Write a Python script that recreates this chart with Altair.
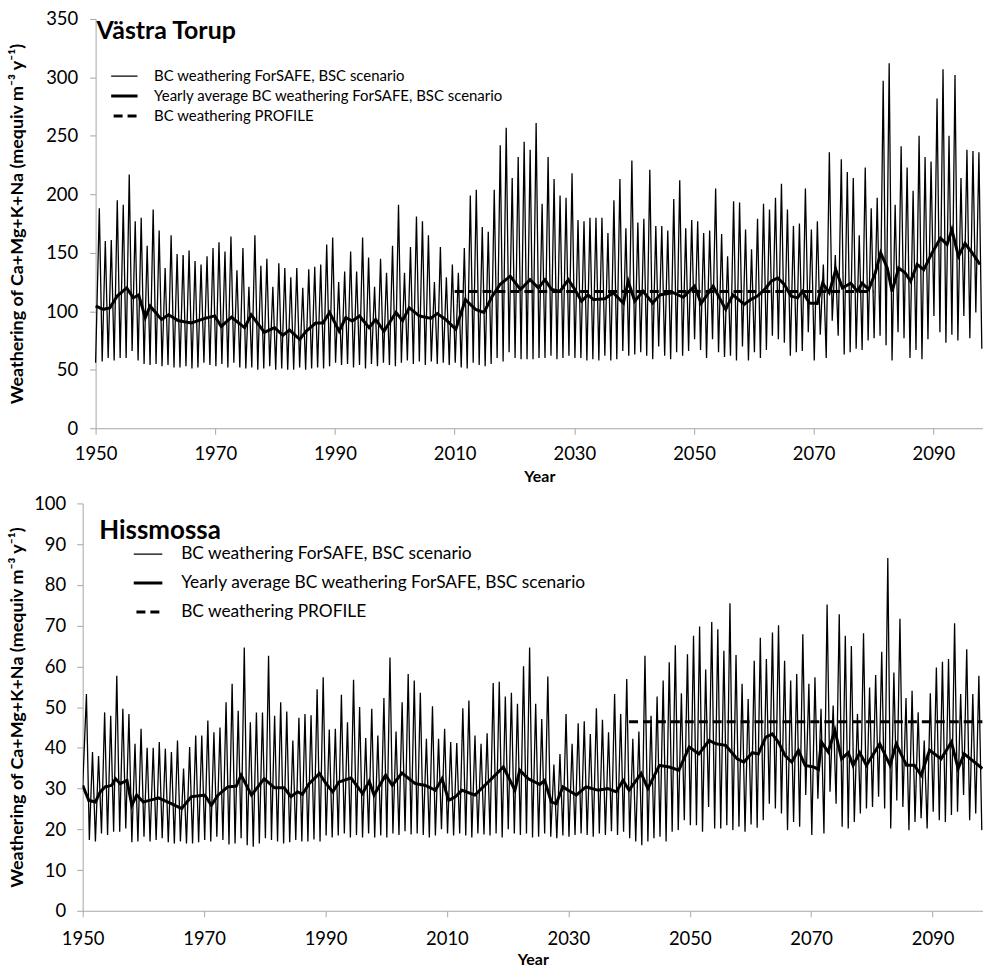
import altair as alt
import pandas as pd

# ---------------- data ----------------
peak_years = list(range(1950, 2098))      # one seasonal maximum per year
trough_years = list(range(1950, 2099))    # one seasonal minimum per year

S1 = "BC weathering ForSAFE, BSC scenario"
S2 = "Yearly average BC weathering ForSAFE, BSC scenario"
S3 = "BC weathering PROFILE"

# Västra Torup
top_peaks = [
    188, 160, 161, 195, 191, 217, 177, 180, 156, 187,
    169, 137, 165, 149, 148, 152, 143, 140, 147, 154,
    159, 151, 164, 135, 154, 121, 165, 139, 145, 121,
    141, 137, 129, 137, 120, 136, 138, 140, 157, 163,
    125, 134, 151, 134, 163, 146, 121, 145, 133, 156,
    191, 133, 155, 181, 177, 165, 125, 155, 129, 140,
    133, 154, 199, 204, 172, 168, 204, 242, 257, 214,
    232, 245, 238, 261, 192, 232, 213, 199, 197, 218,
    178, 177, 180, 180, 180, 167, 195, 213, 171, 229,
    176, 179, 221, 173, 173, 169, 196, 212, 171, 178,
    177, 167, 169, 205, 166, 147, 194, 193, 170, 153,
    179, 192, 187, 197, 209, 187, 173, 175, 205, 170,
    177, 140, 236, 148, 230, 219, 214, 165, 223, 188,
    197, 297, 312, 191, 241, 223, 203, 250, 232, 228,
    282, 307, 250, 302, 214, 238, 237, 236,
]
top_troughs = [
    56, 57, 60, 58, 60, 60, 66, 58, 55, 54,
    55, 53, 54, 52, 52, 53, 51, 52, 56, 54,
    53, 55, 52, 56, 52, 51, 52, 50, 51, 53,
    50, 51, 50, 50, 52, 50, 51, 52, 51, 53,
    56, 54, 55, 52, 54, 51, 55, 53, 56, 54,
    53, 56, 58, 55, 57, 54, 57, 55, 56, 54,
    56, 52, 51, 56, 54, 53, 55, 60, 57, 65,
    60, 59, 59, 59, 60, 60, 62, 59, 60, 62,
    60, 60, 58, 59, 58, 62, 58, 59, 66, 62,
    63, 65, 62, 59, 70, 62, 59, 65, 62, 66,
    76, 67, 60, 76, 65, 61, 62, 58, 70, 58,
    65, 60, 67, 79, 76, 73, 62, 65, 66, 82,
    58, 80, 60, 92, 79, 63, 65, 68, 67, 75,
    77, 79, 71, 58, 82, 77, 60, 67, 59, 76,
    96, 82, 73, 80, 75, 96, 77, 99, 68,
]
top_avg_x = [
    1950.0, 1951.3, 1952.4, 1953.6, 1955.2, 1956.3, 1957.2, 1958.3, 1959.1, 1961.0,
    1962.2, 1963.8, 1966.0, 1968.3, 1969.9, 1971.0, 1972.7, 1974.9, 1976.0, 1978.2,
    1979.9, 1981.3, 1982.4, 1984.1, 1985.2, 1986.8, 1988.0, 1989.1, 1990.7, 1991.8,
    1992.9, 1994.1, 1995.7, 1996.8, 1998.2, 2000.2, 2001.3, 2002.4, 2004.1, 2006.0,
    2007.1, 2008.5, 2010.2, 2011.8, 2013.5, 2014.9, 2016.3, 2017.6, 2019.3, 2021.0,
    2022.6, 2024.0, 2025.1, 2026.2, 2027.6, 2029.0, 2030.1, 2031.2, 2032.3, 2033.2,
    2035.1, 2036.5, 2038.2, 2039.0, 2040.1, 2041.5, 2043.1, 2044.3, 2046.5, 2048.2,
    2050.1, 2051.2, 2053.2, 2055.3, 2056.5, 2058.4, 2059.5, 2060.6, 2061.8, 2062.9,
    2064.0, 2065.1, 2066.2, 2067.3, 2068.1, 2069.3, 2070.6, 2071.5, 2072.6, 2073.7,
    2074.8, 2076.2, 2077.3, 2078.1, 2079.2, 2080.3, 2081.2, 2082.3, 2083.1, 2084.2,
    2085.3, 2086.2, 2087.3, 2088.4, 2089.8, 2091.2, 2092.3, 2093.1, 2094.2, 2095.3,
    2096.7, 2097.8,
]
top_avg_y = [
    104.5, 101.6, 103, 113, 120, 111.5, 114, 94.5, 104.5, 93,
    97, 92, 90, 94, 96, 87, 95, 86, 97, 82,
    86, 79.5, 84, 76, 83, 90, 90, 99, 83, 94.5,
    91.7, 96, 86, 93, 83, 99, 92, 103, 96, 94,
    98, 93, 84.6, 110, 101.6, 99, 113, 123, 130, 118.6,
    127, 120, 127, 118.6, 117, 127, 118.6, 108.7, 114, 110,
    110.7, 115.8, 107, 125.7, 108.7, 117, 107, 114, 116, 112,
    121.5, 106.7, 121.5, 101.6, 114, 106, 110, 113, 118.6, 125.7,
    128.5, 123, 113, 111.5, 117, 107, 106.7, 124, 116, 135.6,
    120, 124, 117, 124, 118.6, 132.8, 150, 137, 117, 137,
    132.8, 125.7, 140, 135.6, 150, 162.6, 157, 169.7, 147, 158,
    148.5, 140,
]
top_profile_x = [2010.0, 2080.0]
top_profile_y = [117, 117]

# Hissmossa
bot_peaks = [
    53.2, 39, 38, 48.7, 47.9, 57.7, 49.6, 48.3, 41, 44.7,
    40, 40, 41.4, 39.8, 39, 41.8, 34.9, 40.2, 43, 43,
    46.7, 43.8, 45, 51.2, 55.7, 49.1, 64.6, 46.3, 48.7, 48.7,
    62.6, 47.9, 51.2, 48.9, 41.8, 47.4, 48.3, 48, 54.4, 57.3,
    44.5, 44.7, 53, 46.3, 56.7, 50, 42.4, 49.6, 43, 52.2,
    62.2, 44, 51.2, 58.1, 56.5, 53.5, 42.2, 50.2, 42.2, 44.7,
    41.4, 41.2, 49.7, 51.6, 43, 41, 43.6, 55.9, 56.2, 52.6,
    53.5, 50.8, 60, 64.6, 50.8, 47.1, 57.5, 35.9, 38.5, 48.3,
    41, 46, 46.5, 43.4, 49.7, 46.9, 43.8, 53.2, 48.3, 56.9,
    42.2, 44, 62.6, 47.9, 52.6, 56.5, 61, 65.2, 53.4, 63,
    67.5, 69.8, 59.2, 70.9, 69.1, 63.8, 75.5, 62.8, 55.7, 52,
    61.4, 67, 61.8, 68.3, 70.1, 61.4, 56.5, 58.1, 67.9, 55.7,
    57.3, 49.6, 75.2, 50.4, 72.8, 67.5, 65, 48.3, 68.1, 54.8,
    57.9, 63.6, 86.6, 58.5, 71.7, 52.2, 54, 48.7, 41.8, 53.4,
    59.7, 61.1, 61.8, 70.6, 53.2, 64.2, 53.2, 57.7,
]
bot_troughs = [
    30, 17.4, 17, 19, 18.6, 19.4, 19.4, 20.2, 16.8, 17,
    18.2, 17, 17.4, 17.8, 16.8, 16.5, 17, 16.5, 16.5, 16.8,
    17.4, 17, 18.2, 17.4, 16.3, 16.5, 17.8, 16.1, 15.7, 16.5,
    17.8, 17.4, 17, 16.5, 16.8, 17.4, 17, 17, 17.5, 17,
    18.5, 18, 18.5, 19, 18, 18.6, 18, 19, 18, 18.5,
    18, 19, 18.6, 19.5, 18.7, 19, 18.6, 18, 18.5, 20,
    19, 18.5, 19, 18.5, 18, 19, 18.7, 18.5, 19, 18,
    20, 19, 18.6, 19, 18, 18.2, 19, 18.2, 17.8, 18.5,
    18.2, 18.6, 19, 18.6, 18.2, 19, 18.6, 19.5, 18.6, 19.4,
    17.8, 17, 16.1, 17, 17.8, 18.2, 17, 19.4, 19.8, 22.2,
    21, 21, 19.4, 25.5, 20.2, 20.2, 21, 19.8, 20.6, 19.4,
    21.2, 20.4, 22.2, 26.3, 25.1, 23.9, 19.8, 21.8, 20.6, 28.4,
    18.6, 27.5, 19, 29.2, 26.3, 20.6, 20.2, 21.8, 23.9, 25.1,
    25.5, 28, 25.1, 20.2, 27.1, 25.5, 19.8, 21.8, 22.7, 20.2,
    24.3, 22.2, 21.8, 23.5, 24.3, 28.4, 22.2, 23.9, 19.8,
]
bot_avg_x = [
    1950.0, 1951.0, 1952.1, 1952.9, 1953.7, 1954.8, 1955.4, 1956.2, 1957.3, 1958.1,
    1958.9, 1960.0, 1962.5, 1964.6, 1966.3, 1967.9, 1970.1, 1971.2, 1972.3, 1973.9,
    1975.3, 1976.1, 1977.8, 1979.9, 1981.6, 1983.2, 1984.3, 1985.4, 1986.2, 1987.3,
    1989.0, 1990.1, 1991.2, 1992.2, 1994.2, 1996.1, 1997.2, 1998.0, 1999.9, 2001.0,
    2002.6, 2004.8, 2006.4, 2008.1, 2009.2, 2010.3, 2011.4, 2012.5, 2014.6, 2016.8,
    2019.3, 2021.2, 2022.0, 2023.4, 2024.5, 2025.3, 2026.1, 2027.2, 2028.0, 2029.1,
    2031.3, 2032.9, 2034.9, 2036.5, 2037.9, 2039.0, 2040.0, 2042.0, 2043.1, 2045.0,
    2046.6, 2048.2, 2049.9, 2051.5, 2053.2, 2054.3, 2055.9, 2057.8, 2058.9, 2060.3,
    2061.3, 2062.5, 2063.6, 2064.6, 2065.7, 2066.8, 2067.9, 2069.0, 2070.4, 2071.2,
    2071.7, 2072.8, 2073.9, 2075.0, 2076.1, 2076.9, 2078.0, 2079.1, 2081.3, 2083.0,
    2084.0, 2085.7, 2087.0, 2088.1, 2089.5, 2091.4, 2093.1, 2094.2, 2095.2, 2096.9,
    2098.2,
]
bot_avg_y = [
    30.8, 27.1, 26.7, 29.2, 30.4, 30.8, 32.4, 31.2, 32, 25.9,
    28.4, 26.7, 27.7, 26.3, 25.1, 28, 28.4, 25.9, 28.4, 30.4,
    30.6, 33.3, 28.4, 32.4, 30.2, 30.2, 28, 29.2, 28.6, 31.2,
    33.7, 31.2, 29.2, 31.6, 32.6, 28.8, 31.8, 28.4, 33.3, 30.8,
    33.8, 31.2, 30.8, 29.6, 32.4, 27.1, 28, 29.6, 28.4, 31.6,
    35.3, 29.6, 34.5, 32.4, 31.6, 31, 32, 26.7, 26.3, 30.4,
    28.4, 30.4, 29.6, 30, 29.2, 32, 29.6, 33.7, 30, 35.7,
    35.3, 34.5, 40.2, 38.5, 41.8, 41, 40.6, 37.3, 36.5, 38.8,
    38.5, 42.6, 43.4, 41.4, 38.1, 36.5, 39.4, 35.7, 35.3, 34.7,
    41.4, 39, 44.3, 37.3, 38.8, 35.7, 38.8, 35.7, 41, 35.7,
    41, 35.7, 35.7, 33.3, 39.4, 37.3, 41.4, 34.9, 38.5, 36.5,
    34.9,
]
bot_profile_x = [2040.0, 2098.2]
bot_profile_y = [46.4, 46.4]

x_ticks = [1950, 1970, 1990, 2010, 2030, 2050, 2070, 2090]
top_y_ticks = [0, 50, 100, 150, 200, 250, 300, 350]
bot_y_ticks = [0, 10, 20, 30, 40, 50, 60, 70, 80, 90, 100]

Y_TITLE = "Weathering of Ca+Mg+K+Na (mequiv m\u207b\u00b3 y\u207b\u00b9)"
FONT = "Lato"
AXIS_GREY = "#a6a6a6"
PLOT_W = 904


def build_df(peaks, troughs, avg_x, avg_y, prof_x, prof_y):
    rows = []
    k = 0
    for i, t in enumerate(troughs):
        xt = trough_years[i] + (0.0 if i == 0 else 0.1)
        rows.append({"x": xt, "v": t, "s": S1, "w": 1.3, "o": k})
        k += 1
        if i < len(peaks):
            rows.append({"x": peak_years[i] + 0.62, "v": peaks[i], "s": S1, "w": 1.3, "o": k})
            k += 1
    for xa, ya in zip(avg_x, avg_y):
        rows.append({"x": xa, "v": ya, "s": S2, "w": 3.0, "o": k})
        k += 1
    for xp, yp in zip(prof_x, prof_y):
        rows.append({"x": xp, "v": yp, "s": S3, "w": 3.0, "o": k})
        k += 1
    return pd.DataFrame(rows)


def panel(df, title, title_size, title_dx, title_offset, ymax, yticks, inset, height,
          title_pad, label_pad, x_label_pad, x_title_pad,
          leg_x, leg_y, leg_font, leg_row, leg_sym, leg_off):
    legend = alt.Legend(
        title=None, orient="none", legendX=leg_x, legendY=leg_y,
        symbolType="stroke", symbolSize=leg_sym * leg_sym,
        symbolStrokeColor="black", labelFont=FONT, labelFontSize=leg_font,
        labelColor="black", labelLimit=0, labelOffset=leg_off,
        clipHeight=leg_row, rowPadding=0, padding=0,
        symbolStrokeWidth={"expr": "datum.value === '" + S1 + "' ? 1.3 : 3"},
    )
    return alt.Chart(df).mark_line(clip=True, color="black").encode(
        x=alt.X("x:Q",
                scale=alt.Scale(domain=[1950, 2098.3], nice=False, zero=False,
                                range=[inset, PLOT_W]),
                axis=alt.Axis(values=x_ticks, format="d", title="Year", grid=False,
                              labelFont=FONT, labelFontSize=18.5, labelColor="black",
                              labelPadding=x_label_pad, tickSize=6, tickColor=AXIS_GREY,
                              domainColor=AXIS_GREY, labelFlush=False,
                              titleFont=FONT, titleFontSize=16, titleFontWeight="bold",
                              titleColor="black", titlePadding=x_title_pad)),
        y=alt.Y("v:Q",
                scale=alt.Scale(domain=[0, ymax], nice=False, zero=True),
                axis=alt.Axis(values=yticks, title=Y_TITLE, grid=False, offset=-inset,
                              labelFont=FONT, labelFontSize=18.5, labelColor="black",
                              labelPadding=label_pad, tickSize=6, tickColor=AXIS_GREY,
                              domainColor=AXIS_GREY,
                              titleFont=FONT, titleFontSize=18, titleFontWeight="bold",
                              titleColor="black", titlePadding=title_pad)),
        strokeDash=alt.StrokeDash(
            "s:N",
            scale=alt.Scale(domain=[S1, S2, S3], range=[[1, 0], [1, 0], [9, 5]]),
            legend=legend),
        strokeWidth=alt.StrokeWidth("w:Q", scale=None, legend=None),
        order=alt.Order("o:Q"),
    ).properties(
        width=PLOT_W, height=height,
        title=alt.TitleParams(text=title, anchor="start", frame="group", orient="top",
                              font=FONT, fontSize=title_size, fontWeight="bold",
                              color="black", baseline="top",
                              offset=title_offset, dx=title_dx),
    )


top_df = build_df(top_peaks, top_troughs, top_avg_x, top_avg_y, top_profile_x, top_profile_y)
bot_df = build_df(bot_peaks, bot_troughs, bot_avg_x, bot_avg_y, bot_profile_x, bot_profile_y)

top = panel(top_df, "Västra Torup", 25, 14, -34, 350, top_y_ticks, 13, 411,
            18.8, 12, 10.4, 6, 28.6, 47.5, 15, 20, 38, 28.1)
bottom = panel(bot_df, "Hissmossa", 26, 16.7, -49.5, 100, bot_y_ticks, 0, 409,
               6.8, 11, 12.9, 4, 51.3, 36.5, 17.4, 29, 40, 30.2)

chart = alt.concat(top, bottom, columns=1, spacing=9.5).properties(
    padding={"left": 9, "top": 8, "right": 0, "bottom": 0},
).resolve_scale(strokeDash="independent").resolve_legend(
    strokeDash="independent"
).configure_view(stroke=None)

chart.save("out.html", embed_options={"renderer": "svg", "actions": False})
